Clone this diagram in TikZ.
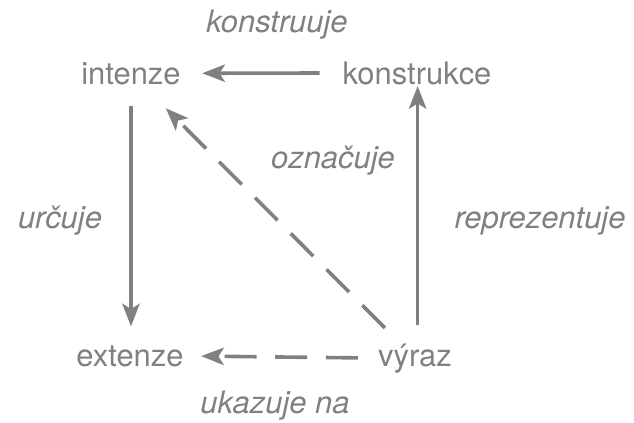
\documentclass[tikz,border=0pt]{standalone}
\usepackage{fontspec}
\setmainfont{TeX Gyre Heros}
\usepackage{tikz}
\usetikzlibrary{arrows.meta}

\definecolor{linegray}{RGB}{128,128,128}
\tikzset{
  term/.style={inner sep=0pt, anchor=base, text=linegray, font=\fontsize{23.2}{28}\selectfont},
  rel/.style={inner sep=0pt, anchor=base, text=linegray, font=\fontsize{23.2}{28}\selectfont\itshape},
  arr/.style={draw=linegray, line width=2.7pt, -{Stealth[length=17pt,width=13pt,inset=4pt]}},
  dashline/.style={dash pattern=on 24pt off 14pt}
}

\begin{document}
\begin{tikzpicture}[x=0.75pt,y=-0.75pt]
        \useasboundingbox (0,0) rectangle (634,422);

        \node[term] (I) at (131,84) {intenze};
        \node[term] (K) at (417,84) {konstrukce};
        \node[term] (E) at (130,366) {extenze};
        \node[term] (V) at (415,366) {výraz};

        \node[rel] (rK) at (277,32) {konstruuje};
        \node[rel] (rO) at (333,168) {označuje};
        \node[rel] (rU) at (60,228) {určuje};
        \node[rel] (rR) at (540,228) {reprezentuje};
        \node[rel] (rN) at (275,413) {ukazuje na};

        \path (K.west) edge[arr, shorten <=17pt, shorten >=16pt] (I.east);
        \path (I.south) edge[arr, shorten <=16pt, shorten >=14pt] (I.south |- E.north);
        \path ([xshift=2pt]V.north) edge[arr, shorten <=14pt, shorten >=1pt] ([xshift=2pt]V.north |- K.south);
        \path (V.center) edge[arr, dashline, shorten <=32pt, shorten >=37pt] (I.center);
        \path (V.west) edge[arr, dashline, shorten <=15pt, shorten >=13pt] (E.east);
    \end{tikzpicture}
\end{document}
